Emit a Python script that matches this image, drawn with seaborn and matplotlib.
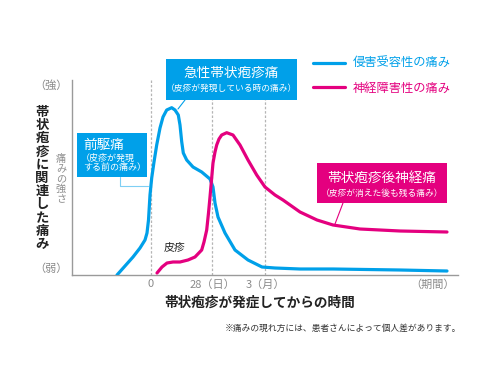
import numpy as np
import pandas as pd
import matplotlib
matplotlib.use("Agg")
import matplotlib.pyplot as plt
from matplotlib.patches import Rectangle
from matplotlib.lines import Line2D
import matplotlib.transforms as mtransforms
import seaborn as sns

sns.set_theme(style="white")
plt.rcParams['font.family'] = ['Noto Sans CJK JP', 'DejaVu Sans']

# ---- data (abstract time units; 0 = onset of rash) ----
blue_label = "侵害受容性の痛み"
mag_label = "神経障害性の痛み"
blue_x = [-34, -26, -18, -11, -6, -4, -2.5, -1, 0.7, 3, 5.7, 9, 12, 15.7, 20.7, 24, 27.3,
          29, 30.7, 32.3, 35.7, 42, 50.7, 59, 62, 64, 67, 74, 84, 97, 111, 124, 149, 182,
          249, 296]
blue_y = [0, 9, 18, 27, 35, 42, 55, 80, 97, 113, 130, 147, 158, 165, 167.3, 165, 160,
          150, 133.3, 122, 115, 108, 103, 96, 88, 72, 58, 42, 25, 15, 8, 7, 6, 6, 5, 4]
mag_x = [6, 11, 16, 22, 29, 37, 44, 50.7, 53, 55.7, 57.5, 59, 60.5, 62, 64, 65.7, 68, 70.7,
         75.7, 82, 89, 97, 105.7, 114, 124, 132, 149, 166, 182, 209, 249, 296]
mag_y = [2, 8, 12, 13, 13, 15, 18, 25, 33, 45, 62, 78, 95, 112, 123, 130, 136, 140, 142.3,
         140, 130, 115, 100, 88, 80, 75, 63, 55, 50, 46, 44, 43]

tick_pos = [0, 61, 114, 282]
tick_labels = ["0", "28（日）", "3（月）", "（期間）"]
guide_pos = [0, 61, 114]
ytick_pos = [190, 7]
ytick_labels = ["（強）", "（弱）"]

BLUE = "#00a0e9"
MAG = "#e4007f"
GRAY = "#8c8c8c"

df = pd.DataFrame({
    "x": blue_x + mag_x,
    "y": blue_y + mag_y,
    "kind": [blue_label] * len(blue_x) + [mag_label] * len(mag_x),
})

W, H = 490, 387
fig = plt.figure(figsize=(W / 100, H / 100), dpi=100)
ax = fig.add_axes([72 / W, 1 - 275 / H, (458 - 72) / W, (275 - 80) / H])


def fp(x, y):
    return (x / W, 1 - y / H)


for g in guide_pos:
    ax.axvline(g, color="#b5b5b5", lw=0.9, ls=(0, (2, 1.5)), zorder=1)

sns.lineplot(data=df, x="x", y="y", hue="kind", palette=[BLUE, MAG], sort=False,
             estimator=None, lw=2.3, ax=ax, zorder=3)
for ln in ax.get_lines():
    ln.set_solid_joinstyle("round")
    ln.set_solid_capstyle("round")

ax.set_xlim(-79, 307)
ax.set_ylim(0, 195)
for s in ["top", "right"]:
    ax.spines[s].set_visible(False)
for s in ["left", "bottom"]:
    ax.spines[s].set_color("#9a9a9a")
    ax.spines[s].set_linewidth(1.0)

ax.set_xticks(tick_pos)
ax.set_xticklabels(tick_labels, fontsize=8, color="#8a8a8a")
shifts = [0, 10, 9, 0]
for lab, sh in zip(ax.get_xticklabels(), shifts):
    lab.set_transform(lab.get_transform() + mtransforms.ScaledTranslation(sh / 100, 0, fig.dpi_scale_trans))
ax.set_yticks(ytick_pos)
ax.set_yticklabels(ytick_labels, fontsize=8, color="#8a8a8a")
ax.tick_params(axis="both", length=0, pad=3)
ax.set_xlabel("")
ax.set_ylabel("")

# legend
leg = ax.legend(loc="upper left", bbox_to_anchor=fp(308, 52), bbox_transform=fig.transFigure,
                frameon=False, fontsize=8.8, handlelength=2.6, handletextpad=0.7,
                labelspacing=0.95, borderaxespad=0)
for t, c in zip(leg.get_texts(), [BLUE, MAG]):
    t.set_color(c)
for l in leg.get_lines():
    l.set_linewidth(2.3)

# axis labels
fig.text(*fp(260, 303), "帯状疱疹が発症してからの時間", ha="center", va="center",
         fontsize=9.8, fontweight="bold", color="#222222")
fig.text(*fp(42, 178), "\n".join("帯状疱疹に関連した痛み"), ha="center", va="center",
         fontsize=9.6, fontweight="bold", color="#222222", linespacing=0.93)
fig.text(*fp(61, 179), "\n".join("痛みの強さ"), ha="center", va="center",
         fontsize=7.3, color=GRAY, linespacing=1.0)
fig.text(*fp(343, 328), "※痛みの現れ方には、患者さんによって個人差があります。", ha="center",
         va="center", fontsize=6.3, color="#333333")
fig.text(*fp(175, 247), "皮疹", ha="center", va="center", fontsize=7.8, color="#222222")


def box(x0, y0, x1, y1, color):
    fig.add_artist(Rectangle(fp(x0, y1), (x1 - x0) / W, (y1 - y0) / H,
                             transform=fig.transFigure, facecolor=color, edgecolor="none",
                             zorder=5))


def conn(pts, color):
    xs = [p[0] / W for p in pts]
    ys = [1 - p[1] / H for p in pts]
    fig.add_artist(Line2D(xs, ys, transform=fig.transFigure, color=color, lw=0.8, zorder=4))


# 前駆痛
conn([(120, 177), (120, 186), (148, 186)], "#7fcff4")
box(77, 133, 147, 177, BLUE)
fig.text(*fp(83, 145), "前駆痛", ha="left", va="center", fontsize=9.8, color="white", zorder=6)
fig.text(*fp(81, 158), "（皮疹が発現", ha="left", va="center", fontsize=6.5, color="white", zorder=6)
fig.text(*fp(83, 167), "する前の痛み）", ha="left", va="center", fontsize=6.5, color="white", zorder=6)

# 急性帯状疱疹痛
conn([(185, 100), (178, 109)], BLUE)
box(166, 59, 297, 100, BLUE)
fig.text(*fp(231.5, 73), "急性帯状疱疹痛", ha="center", va="center", fontsize=9.8, color="white", zorder=6)
fig.text(*fp(231.5, 88), "（皮疹が発現している時の痛み）", ha="center", va="center", fontsize=6.3, color="white", zorder=6)

# 帯状疱疹後神経痛
conn([(343, 203), (335, 224)], MAG)
box(317, 163, 447, 203, MAG)
fig.text(*fp(382, 178), "帯状疱疹後神経痛", ha="center", va="center", fontsize=9.8, color="white", zorder=6)
fig.text(*fp(382, 193), "（皮疹が消えた後も残る痛み）", ha="center", va="center", fontsize=6.3, color="white", zorder=6)

fig.savefig("out.png", dpi=100, facecolor="white")
